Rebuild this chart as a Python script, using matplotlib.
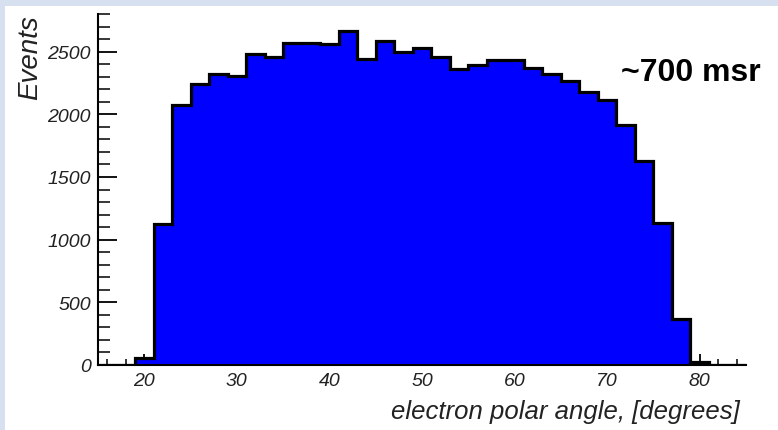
import matplotlib
matplotlib.use("Agg")
import matplotlib.pyplot as plt
import numpy as np
from matplotlib.patches import Rectangle
from matplotlib.ticker import MultipleLocator

# histogram: electron polar angle, 2 degree bins from 15 to 85
bin_edges = list(range(15, 87, 2))
events = [0, 0, 58, 1126, 2077, 2244, 2319, 2306, 2481, 2455,
          2566, 2572, 2558, 2668, 2444, 2588, 2497, 2530, 2455, 2359,
          2395, 2437, 2436, 2366, 2322, 2266, 2178, 2111, 1911, 1624,
          1134, 367, 20, 0, 0]
x_ticks = [20, 30, 40, 50, 60, 70, 80]
y_ticks = [0, 500, 1000, 1500, 2000, 2500]

plt.rcParams['font.family'] = ['Liberation Sans', 'DejaVu Sans']

fig = plt.figure(figsize=(7.78, 4.31), dpi=100)
fig.patch.set_facecolor("#d6e0ef")
# white slide panel behind the plot
panel = Rectangle((5 / 778, 0), 1, 1 - 7 / 431, transform=fig.transFigure,
                  facecolor="white", edgecolor="none", zorder=-10)
fig.add_artist(panel)

ax = fig.add_axes([98 / 778, 65 / 431, 648 / 778, 351 / 431])
ax.set_zorder(1)
ax.set_facecolor("white")

ax.stairs(events, bin_edges, fill=True, color="#0000ff", zorder=2)
ax.stairs(events, bin_edges, color="black", linewidth=2.3, baseline=0, zorder=3)

ax.set_xlim(15, 85)
ax.set_ylim(0, 2800)

for s in ["top", "right"]:
    ax.spines[s].set_visible(False)
for s in ["left", "bottom"]:
    ax.spines[s].set_linewidth(1.5)
    ax.spines[s].set_zorder(4)

ax.set_xticks(x_ticks)
ax.set_yticks(y_ticks)
ax.xaxis.set_minor_locator(MultipleLocator(2))
ax.yaxis.set_minor_locator(MultipleLocator(100))

ax.tick_params(axis="x", which="major", direction="in", length=8, width=1.3, pad=5)
ax.tick_params(axis="x", which="minor", direction="in", length=4, width=1.1)
ax.tick_params(axis="y", which="major", direction="in", length=14, width=1.3, pad=5)
ax.tick_params(axis="y", which="minor", direction="in", length=8.5, width=1.1)
ax.tick_params(labelsize=14, labelcolor="#222222")
for lab in ax.get_xticklabels() + ax.get_yticklabels():
    lab.set_fontstyle("italic")

ax.set_xlabel("electron polar angle, [degrees]", fontsize=18.5, fontstyle="italic",
              color="#222222", loc="right")
ax.xaxis.set_label_coords(0.991, -0.098)
ax.set_ylabel("Events", fontsize=20, fontstyle="italic", color="#222222",
              loc="top", labelpad=3)

ax.text(1.022, 0.835, "~700 msr", transform=ax.transAxes, fontsize=23,
        fontweight="bold", ha="right", va="center", color="black")

fig.savefig("out.png", dpi=100, facecolor=fig.get_facecolor())
